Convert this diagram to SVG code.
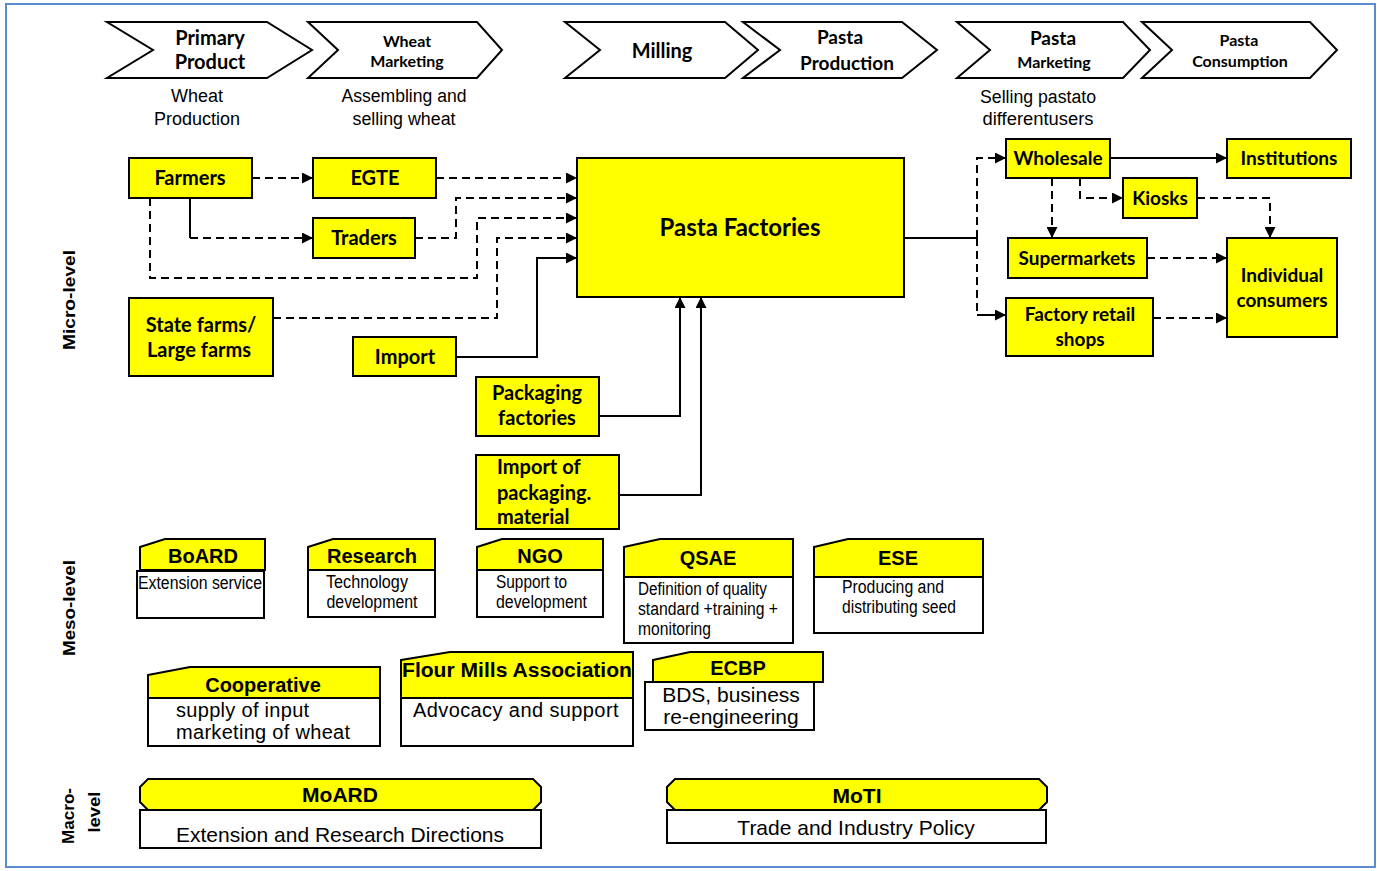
<svg xmlns="http://www.w3.org/2000/svg" width="1377" height="871" viewBox="0 0 1377 871">
<defs>
<marker id="ah" viewBox="0 0 10 10" refX="10" refY="5" markerWidth="11" markerHeight="11" markerUnits="userSpaceOnUse" orient="auto"><path d="M0,0 L10,5 L0,10 z" fill="#000"/></marker>
<style>
.chev{fill:#fff;stroke:#000;stroke-width:2}
.yb{fill:#ffff00;stroke:#000;stroke-width:2}
.wb{fill:#fff;stroke:#000;stroke-width:2}
.cal{font-family:Lato,"Open Sans",sans-serif;font-weight:bold;fill:#000}
.ar{font-family:"Liberation Sans",Arial,sans-serif;fill:#000}
.arb{font-family:"Liberation Sans",Arial,sans-serif;font-weight:bold;fill:#000}
.mid{text-anchor:middle}
.sol{fill:none;stroke:#000;stroke-width:2}
.dash{fill:none;stroke:#000;stroke-width:2;stroke-dasharray:8 5}
</style>
</defs>
<rect x="6" y="4" width="1369" height="863" fill="#fff" stroke="#5b8bd0" stroke-width="2"/>

<g id="stage-primary">
<polygon class="chev" points="107,22 267,22 312,50 267,78 107,78 153,50"/>
<text class="cal mid" x="210" y="45" font-size="20">Primary</text>
<text class="cal mid" x="210" y="69" font-size="20">Product</text>
<text class="ar mid" x="197" y="102" font-size="18" textLength="52" lengthAdjust="spacingAndGlyphs">Wheat</text>
<text class="ar mid" x="197" y="125" font-size="18" textLength="86" lengthAdjust="spacingAndGlyphs">Production</text>
</g>
<g id="stage-wheat-marketing">
<polygon class="chev" points="308,22 477,22 502,50 477,78 308,78 338,50"/>
<text class="cal mid" x="407" y="47" font-size="16">Wheat</text>
<text class="cal mid" x="407" y="67" font-size="16">Marketing</text>
<text class="ar mid" x="404" y="102" font-size="18" textLength="125" lengthAdjust="spacingAndGlyphs">Assembling and</text>
<text class="ar mid" x="404" y="125" font-size="18" textLength="103" lengthAdjust="spacingAndGlyphs">selling wheat</text>
</g>
<g id="stage-milling">
<polygon class="chev" points="565,22 725,22 758,50 725,78 565,78 600,50"/>
<text class="cal mid" x="662" y="58" font-size="20">Milling</text>
</g>
<g id="stage-pasta-production">
<polygon class="chev" points="743,22 902,22 937,50 902,78 743,78 780,50"/>
<text class="cal mid" x="840" y="44" font-size="19">Pasta</text>
<text class="cal mid" x="847" y="70" font-size="19">Production</text>
</g>
<g id="stage-pasta-marketing">
<polygon class="chev" points="957,22 1123,22 1150,50 1123,78 957,78 990,50"/>
<text class="cal mid" x="1053" y="45" font-size="19">Pasta</text>
<text class="cal mid" x="1054" y="68" font-size="16">Marketing</text>
<text class="ar mid" x="1038" y="103" font-size="18" textLength="116" lengthAdjust="spacingAndGlyphs">Selling pastato</text>
<text class="ar mid" x="1038" y="125" font-size="18" textLength="111" lengthAdjust="spacingAndGlyphs">differentusers</text>
</g>
<g id="stage-pasta-consumption">
<polygon class="chev" points="1142,22 1310,22 1337,50 1310,78 1142,78 1172,50"/>
<text class="cal mid" x="1239" y="46" font-size="16">Pasta</text>
<text class="cal mid" x="1240" y="67" font-size="16">Consumption</text>
</g>

<g id="level-labels">
<text class="arb mid" transform="translate(75,300) rotate(-90)" font-size="16" textLength="100" lengthAdjust="spacingAndGlyphs">Micro-level</text>
<text class="arb mid" transform="translate(75,608) rotate(-90)" font-size="16" textLength="96" lengthAdjust="spacingAndGlyphs">Meso-level</text>
<text class="arb mid" transform="translate(74,816) rotate(-90)" font-size="16" textLength="56" lengthAdjust="spacingAndGlyphs">Macro-</text>
<text class="arb mid" transform="translate(100,812) rotate(-90)" font-size="16" textLength="41" lengthAdjust="spacingAndGlyphs">level</text>
</g>

<g id="connectors">
<path class="dash" d="M252,178 H313" marker-end="url(#ah)"/>
<path class="dash" d="M436,178 H577" marker-end="url(#ah)"/>
<path class="sol" d="M190,198 V238"/>
<path class="dash" d="M190,238 H313" marker-end="url(#ah)"/>
<path class="dash" d="M415,238 H456 V198 H577" marker-end="url(#ah)"/>
<path class="dash" d="M150,198 V278 H477 V218 H577" marker-end="url(#ah)"/>
<path class="dash" d="M273,318 H497 V238 H577" marker-end="url(#ah)"/>
<path class="sol" d="M456,357 H537 V258 H577" marker-end="url(#ah)"/>
<path class="sol" d="M599,416 H680 V297" marker-end="url(#ah)"/>
<path class="sol" d="M619,495 H701 V297" marker-end="url(#ah)"/>
<path class="sol" d="M904,238 H977"/>
<path class="dash" d="M977,238 V158 H1006" marker-end="url(#ah)"/>
<path class="dash" d="M977,238 V315"/>
<path class="sol" d="M977,315 H1006" marker-end="url(#ah)"/>
<path class="sol" d="M1110,158 H1227" marker-end="url(#ah)"/>
<path class="dash" d="M1080,178 V198 H1123" marker-end="url(#ah)"/>
<path class="dash" d="M1052,178 V238" marker-end="url(#ah)"/>
<path class="dash" d="M1197,198 H1270 V238" marker-end="url(#ah)"/>
<path class="dash" d="M1147,258 H1227" marker-end="url(#ah)"/>
<path class="dash" d="M1153,318 H1227" marker-end="url(#ah)"/>
</g>

<g id="farmers"><rect class="yb" x="129" y="158" width="123" height="40"/><text class="cal mid" x="190" y="185" font-size="20">Farmers</text></g>
<g id="egte"><rect class="yb" x="313" y="158" width="123" height="40"/><text class="cal mid" x="375" y="185" font-size="20">EGTE</text></g>
<g id="traders"><rect class="yb" x="313" y="218" width="102" height="40"/><text class="cal mid" x="364" y="245" font-size="20">Traders</text></g>
<g id="state-farms"><rect class="yb" x="129" y="298" width="144" height="78"/><text class="cal mid" x="201" y="332" font-size="20">State farms/</text><text class="cal mid" x="199" y="357" font-size="20">Large farms</text></g>
<g id="import"><rect class="yb" x="353" y="337" width="103" height="39"/><text class="cal mid" x="405" y="364" font-size="20">Import</text></g>
<g id="pasta-factories"><rect class="yb" x="577" y="158" width="327" height="139"/><text class="cal mid" x="740" y="236" font-size="24">Pasta Factories</text></g>
<g id="packaging-factories"><rect class="yb" x="476" y="377" width="123" height="59"/><text class="cal mid" x="537" y="400" font-size="20">Packaging</text><text class="cal mid" x="537" y="425" font-size="20">factories</text></g>
<g id="import-packaging"><rect class="yb" x="476" y="455" width="143" height="74"/><text class="cal" x="497" y="474" font-size="20">Import of</text><text class="cal" x="497" y="500" font-size="20">packaging.</text><text class="cal" x="497" y="524" font-size="20">material</text></g>

<g id="wholesale"><rect class="yb" x="1006" y="139" width="104" height="39"/><text class="cal mid" x="1058" y="165" font-size="19">Wholesale</text></g>
<g id="institutions"><rect class="yb" x="1227" y="139" width="124" height="39"/><text class="cal mid" x="1289" y="165" font-size="19">Institutions</text></g>
<g id="kiosks"><rect class="yb" x="1123" y="178" width="74" height="40"/><text class="cal mid" x="1160" y="205" font-size="19">Kiosks</text></g>
<g id="supermarkets"><rect class="yb" x="1008" y="238" width="139" height="40"/><text class="cal mid" x="1077" y="265" font-size="19">Supermarkets</text></g>
<g id="individual-consumers"><rect class="yb" x="1227" y="238" width="110" height="99"/><text class="cal mid" x="1282" y="282" font-size="19">Individual</text><text class="cal mid" x="1282" y="307" font-size="19">consumers</text></g>
<g id="factory-retail"><rect class="yb" x="1006" y="298" width="147" height="58"/><text class="cal mid" x="1080" y="321" font-size="19">Factory retail</text><text class="cal mid" x="1080" y="346" font-size="19">shops</text></g>

<g id="board">
<path class="yb" d="M140,547 L165,539 H265 V570 H140 Z"/>
<rect class="wb" x="137" y="571" width="127" height="47"/>
<text class="arb mid" x="203" y="563" font-size="20">BoARD</text>
<text class="ar" x="138" y="589" font-size="18" textLength="124" lengthAdjust="spacingAndGlyphs">Extension service</text>
</g>
<g id="research">
<path class="yb" d="M308,547 L333,539 H435 V570 H308 Z"/>
<rect class="wb" x="308" y="570" width="127" height="47"/>
<text class="arb mid" x="372" y="563" font-size="20">Research</text>
<text class="ar mid" x="367" y="588" font-size="18" textLength="82" lengthAdjust="spacingAndGlyphs">Technology</text>
<text class="ar mid" x="372" y="608" font-size="18" textLength="91" lengthAdjust="spacingAndGlyphs">development</text>
</g>
<g id="ngo">
<path class="yb" d="M477,547 L502,539 H603 V570 H477 Z"/>
<rect class="wb" x="477" y="570" width="126" height="47"/>
<text class="arb mid" x="540" y="563" font-size="20">NGO</text>
<text class="ar" x="496" y="588" font-size="18" textLength="71" lengthAdjust="spacingAndGlyphs">Support to</text>
<text class="ar" x="496" y="608" font-size="18" textLength="91" lengthAdjust="spacingAndGlyphs">development</text>
</g>
<g id="qsae">
<path class="yb" d="M624,547 L660,539 H793 V577 H624 Z"/>
<rect class="wb" x="624" y="577" width="169" height="66"/>
<text class="arb mid" x="708" y="565" font-size="20">QSAE</text>
<text class="ar" x="638" y="595" font-size="18" textLength="129" lengthAdjust="spacingAndGlyphs">Definition of quality</text>
<text class="ar" x="638" y="615" font-size="18" textLength="140" lengthAdjust="spacingAndGlyphs">standard +training +</text>
<text class="ar" x="638" y="635" font-size="18" textLength="73" lengthAdjust="spacingAndGlyphs">monitoring</text>
</g>
<g id="ese">
<path class="yb" d="M814,547 L848,539 H983 V577 H814 Z"/>
<rect class="wb" x="814" y="577" width="169" height="56"/>
<text class="arb mid" x="898" y="565" font-size="20">ESE</text>
<text class="ar" x="842" y="593" font-size="18" textLength="102" lengthAdjust="spacingAndGlyphs">Producing and</text>
<text class="ar" x="842" y="613" font-size="18" textLength="114" lengthAdjust="spacingAndGlyphs">distributing seed</text>
</g>
<g id="cooperative">
<path class="yb" d="M148,675 L190,667 H380 V698 H148 Z"/>
<rect class="wb" x="148" y="698" width="232" height="48"/>
<text class="arb mid" x="263" y="692" font-size="20">Cooperative</text>
<text class="ar" x="176" y="717" font-size="20" letter-spacing="0.3">supply of input</text>
<text class="ar" x="176" y="739" font-size="20" letter-spacing="0.3">marketing of wheat</text>
</g>
<g id="flour-mills">
<path class="yb" d="M401,660 L450,652 H633 V698 H401 Z"/>
<rect class="wb" x="401" y="698" width="232" height="48"/>
<text class="arb" x="402" y="677" font-size="20" textLength="230" lengthAdjust="spacingAndGlyphs">Flour Mills Association</text>
<text class="ar" x="413" y="717" font-size="20" letter-spacing="0.4">Advocacy and support</text>
</g>
<g id="ecbp">
<path class="yb" d="M653,660 L690,652 H823 V682 H653 Z"/>
<rect class="wb" x="645" y="682" width="169" height="48"/>
<text class="arb mid" x="738" y="675" font-size="20">ECBP</text>
<text class="ar mid" x="731" y="702" font-size="21">BDS, business</text>
<text class="ar mid" x="731" y="724" font-size="21">re-engineering</text>
</g>

<g id="moard">
<path class="yb" d="M140,787 L148,779 H533 L541,787 V802 L533,810 H148 L140,802 Z"/>
<rect class="wb" x="140" y="810" width="401" height="38"/>
<text class="arb mid" x="340" y="802" font-size="21">MoARD</text>
<text class="ar mid" x="340" y="842" font-size="21">Extension and Research Directions</text>
</g>
<g id="moti">
<path class="yb" d="M667,787 L675,779 H1039 L1047,787 V802 L1039,810 H675 L667,802 Z"/>
<rect class="wb" x="667" y="810" width="379" height="33"/>
<text class="arb mid" x="857" y="803" font-size="21">MoTI</text>
<text class="ar mid" x="856" y="835" font-size="21">Trade and Industry Policy</text>
</g>
</svg>
